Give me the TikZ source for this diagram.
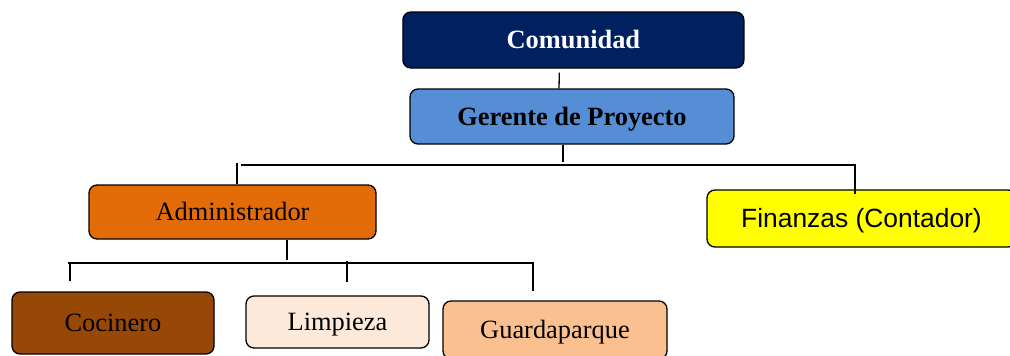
\documentclass[tikz,border=0pt]{standalone}
\usepackage{fontspec}
\setmainfont{Liberation Serif}
\newfontfamily\arialfont{Liberation Sans}
\definecolor{cNavy}{HTML}{002060}
\definecolor{cBlue}{HTML}{558ED5}
\definecolor{cOrange}{HTML}{E36C09}
\definecolor{cYellow}{HTML}{FFFF00}
\definecolor{cBrown}{HTML}{974806}
\definecolor{cPeach}{HTML}{FDE9D9}
\definecolor{cApricot}{HTML}{FAC090}
\tikzset{
  orgbox/.style={draw=black, line width=1.3pt, rounded corners=8pt, inner sep=0pt,
    text height=17.5pt, text depth=0pt, align=center,
    font=\fontsize{26.4}{30}\selectfont},
  link/.style={draw=black, line width=1.3pt}
}
\begin{document}
\begin{tikzpicture}[x=1pt,y=-1pt]
\useasboundingbox (0,0) rectangle (1010,356);
\fill[white] (0,0) rectangle (1010,356);
% nodes
\node[orgbox, fill=cNavy, text=white, minimum width=341pt, minimum height=56pt] (com) at (573.4,40) {\bfseries Comunidad};
\node[orgbox, fill=cBlue, minimum width=324pt, minimum height=55pt] (ger) at (572,116.5) {\bfseries Gerente de Proyecto};
\node[orgbox, fill=cOrange, minimum width=287pt, minimum height=54pt] (adm) at (232.5,212) {Administrador};
\node[orgbox, fill=cYellow, minimum width=309pt, minimum height=57pt, font=\arialfont\fontsize{26.4}{30}\selectfont] (fin) at (861.5,218.5) {Finanzas (Contador)};
\node[orgbox, fill=cBrown, minimum width=202pt, minimum height=62pt] (coc) at (113,323) {Cocinero};
\node[orgbox, fill=cPeach, minimum width=183pt, minimum height=52pt] (lim) at (337.5,322) {Limpieza};
\node[orgbox, fill=cApricot, minimum width=224pt, minimum height=58pt] (gua) at (555,330) {Guardaparque};
% bus coordinates
\coordinate (busL) at (241,165);
\coordinate (busR) at (855,165);
\coordinate (bL) at (68,263);
\coordinate (bR) at (533,263);
% connectors
\draw[link, shorten <=4pt] ([xshift=-14pt]com.south) -- ([xshift=-13pt]ger.north);
\draw[link] ([xshift=-9pt]ger.south) -- ++(0,17);
\draw[link] (busL) -- (busR) -- (busR |- fin.north) -- ++(0,5);
\draw[link] ([xshift=4.5pt]adm.north) -- ++(0,-21);
\draw[link] ([xshift=54.5pt]adm.south) -- ++(0,20);
\draw[link] (bL) -- (bR) -- ++(0,28);
\draw[link] ([xshift=-43pt,yshift=10pt]coc.north) -- ++(0,-17);
\draw[link] ([xshift=9.5pt,yshift=13pt]lim.north) -- ++(0,-21);
\end{tikzpicture}
\end{document}
